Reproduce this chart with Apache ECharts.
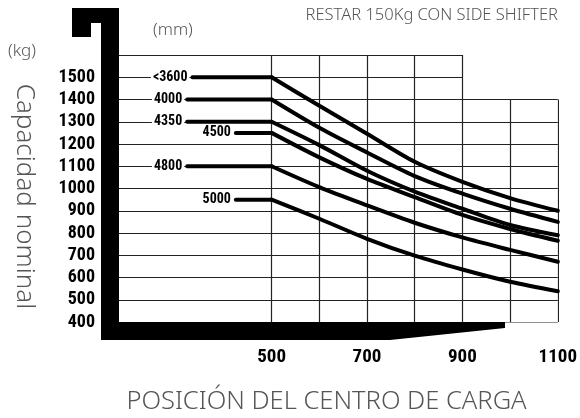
<!DOCTYPE html>
<html>
<head>
<meta charset="utf-8">
<script src="https://cdn.jsdelivr.net/npm/echarts@6/dist/echarts.min.js"></script>
<style>
  html, body { margin: 0; padding: 0; background: #fff; }
  #chart { width: 580px; height: 418px; }
</style>
</head>
<body>
<div id="chart"></div>
<script>
// load centre position (mm) where the curves are read
const xPoints = [500, 600, 700, 800, 900, 1000, 1100]
// tick labels
const xLabels = [500, 700, 900, 1100]
const yTicks = [400, 500, 600, 700, 800, 900, 1000, 1100, 1200, 1300, 1400, 1500, 1600]
const xGrid = [500, 600, 700, 800, 900, 1000, 1100]

// mast heights (mm) and where the flat part of each line starts
const mastHeights = ['<3600', '4000', '4350', '4500', '4800', '5000']
const lineStart = [334, 323, 323, 425, 323, 425]

// capacity (kg) for each mast height
const cap3600 = [1500, 1372, 1246, 1120, 1030, 957, 900]
const cap4000 = [1400, 1273, 1162, 1056, 977, 909, 850]
const cap4350 = [1300, 1195, 1080, 986, 909, 836, 790]
const cap4500 = [1250, 1140, 1043, 961, 881, 818, 765]
const cap4800 = [1100, 1006, 924, 846, 780, 724, 671]
const cap5000 = [950, 864, 774, 698, 636, 581, 538]
const capacities = [cap3600, cap4000, cap4350, cap4500, cap4800, cap5000]

const xMin = 180
const xMax = 1100
const yMin = 400
const yMax = 1600

const numFont = 'Roboto Condensed, Liberation Sans, sans-serif'
const textFont = 'Noto Sans, sans-serif'

const chart = echarts.init(document.getElementById('chart'))

// thin grid: upper rows only reach 900 mm, right columns only reach 1400 kg
const gridLines = []
yTicks.forEach(v => {
  const end = v > 1400 ? 900 : xMax
  gridLines.push({ coords: [[xMin, v], [end, v]] })
})
xGrid.forEach(u => {
  const top = u > 900 ? 1400 : yMax
  gridLines.push({ coords: [[u, yMin], [u, top]] })
})

const lineStyle = { color: '#000', width: 4, cap: 'round' }

// each mast height: a flat part (rated capacity up to 500 mm) and the derated curve
const curveSeries = []
capacities.forEach((vals, i) => {
  curveSeries.push({
    name: mastHeights[i],
    type: 'line',
    data: [{
      value: [lineStart[i], vals[0]],
      symbol: 'circle',
      symbolSize: 2,
      label: {
        show: true,
        position: 'left',
        distance: 2,
        formatter: mastHeights[i],
        fontFamily: numFont,
        fontWeight: 'bold',
        fontSize: 14,
        color: '#000',
        backgroundColor: '#fff',
        padding: [0, 2]
      }
    }, [xPoints[0], vals[0]]],
    symbol: 'none',
    z: 5,
    itemStyle: { color: '#000' },
    lineStyle: lineStyle
  })
  curveSeries.push({
    name: mastHeights[i],
    type: 'line',
    data: xPoints.map((x, j) => [x, vals[j]]),
    smooth: 0.3,
    symbol: 'none',
    z: 5,
    lineStyle: lineStyle
  })
})

chart.setOption({
  animation: false,
  grid: { left: 119, right: 20, top: 55, bottom: 96 },
  xAxis: {
    type: 'value',
    min: xMin,
    max: xMax,
    axisLine: { show: false },
    axisTick: { show: false },
    splitLine: { show: false },
    axisLabel: {
      customValues: xLabels,
      margin: 26,
      formatter: v => String(v),
      fontFamily: numFont,
      fontWeight: 'bold',
      fontSize: 19,
      color: '#000'
    }
  },
  yAxis: {
    type: 'value',
    min: yMin,
    max: yMax,
    interval: 100,
    axisLine: { show: false },
    axisTick: { show: false },
    splitLine: { show: false },
    axisLabel: {
      showMaxLabel: false,
      margin: 24,
      formatter: v => String(v),
      fontFamily: numFont,
      fontWeight: 'bold',
      fontSize: 18,
      color: '#000'
    }
  },
  series: [
    {
      type: 'lines',
      coordinateSystem: 'cartesian2d',
      data: gridLines,
      z: 1,
      silent: true,
      lineStyle: { color: '#222', width: 1.2, opacity: 1 }
    },
    ...curveSeries
  ],
  graphic: [
    {
      // fork outline
      type: 'polygon',
      z: 100,
      shape: {
        points: [[72, 8], [119, 8], [119, 322], [505, 322], [505, 328], [390, 340],
          [101, 340], [101, 23], [91, 23], [91, 37], [72, 37]]
      },
      style: { fill: '#000' }
    },
    {
      type: 'text', x: 558, y: 15.5, z: 100,
      style: { text: 'RESTAR 150Kg CON SIDE SHIFTER', align: 'right', verticalAlign: 'middle',
        fontFamily: textFont, fontWeight: 300, fontSize: 16.5, fill: '#555' }
    },
    {
      type: 'text', x: 153, y: 30, z: 100,
      style: { text: '(mm)', align: 'left', verticalAlign: 'middle',
        fontFamily: textFont, fontWeight: 300, fontSize: 17, fill: '#555' }
    },
    {
      type: 'text', x: 8, y: 51, z: 100,
      style: { text: '(kg)', align: 'left', verticalAlign: 'middle',
        fontFamily: textFont, fontWeight: 300, fontSize: 17, fill: '#555' }
    },
    {
      type: 'text', x: 24, y: 196.5, z: 100, rotation: -Math.PI / 2,
      style: { text: 'Capacidad nominal', align: 'center', verticalAlign: 'middle',
        fontFamily: textFont, fontWeight: 300, fontSize: 26, fill: '#555' }
    },
    {
      type: 'text', x: 326.5, y: 402, z: 100,
      style: { text: 'POSICIÓN DEL CENTRO DE CARGA', align: 'center', verticalAlign: 'middle',
        fontFamily: textFont, fontWeight: 300, fontSize: 25.5, fill: '#555' }
    }
  ]
})

window.onresize = function () {
  chart.resize()
}
</script>
</body>
</html>
